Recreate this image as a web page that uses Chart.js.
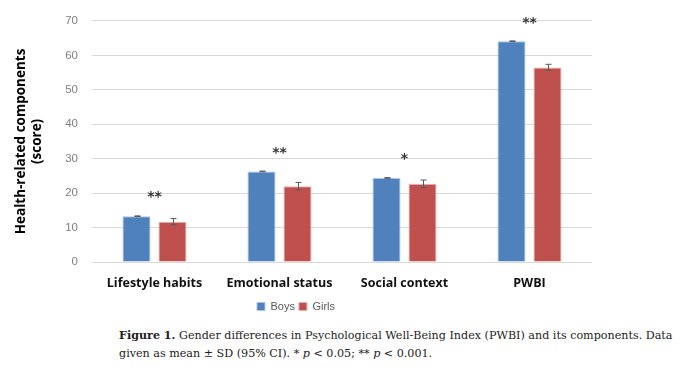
<!DOCTYPE html>
<html><head><meta charset="utf-8">
<script src="https://cdn.jsdelivr.net/npm/chart.js@4"></script>
<style>
html,body{margin:0;padding:0;background:#fff;width:694px;height:375px;overflow:hidden}
#wrap{position:absolute;left:0;top:0;width:694px;height:326px}
#cap{position:absolute;left:119px;top:327px;width:575px;font-family:"DejaVu Serif","Liberation Serif",serif;font-size:11.15px;line-height:18px;color:#222;white-space:nowrap}
</style></head><body>
<div id="wrap"><canvas id="c" width="694" height="326"></canvas></div>
<div id="cap"><b>Figure 1.</b> Gender differences in Psychological Well-Being Index (PWBI) and its components. Data<br>given as mean ± SD (95% CI). * <i>p</i> &lt; 0.05; ** <i>p</i> &lt; 0.001.</div>
<script>
const categories = ['Lifestyle habits','Emotional status','Social context','PWBI'];
const boys = [13.3, 26.3, 24.4, 64.1];
const girls = [11.7, 22.0, 22.7, 56.5];
const boysSD = [0.1, 0.1, 0.1, 0.1];
const girlsSD = [0.9, 1.1, 1.1, 0.9];
const significance = ['**','**','*','**'];
const yTicks = [0,10,20,30,40,50,60,70];

const errorBars = {
  id:'errorBars',
  afterDatasetsDraw(chart){
    const ctx = chart.ctx, y = chart.scales.y;
    const sds = [boysSD, girlsSD];
    ctx.save();
    ctx.strokeStyle = '#595959'; ctx.lineWidth = 1;
    chart.data.datasets.forEach((ds,di)=>{
      const meta = chart.getDatasetMeta(di);
      meta.data.forEach((bar,i)=>{
        const v = ds.data[i], sd = sds[di][i];
        const x = Math.round(bar.x)+0.5;
        const y1 = y.getPixelForValue(v+sd), y2 = y.getPixelForValue(v-sd);
        ctx.beginPath();
        ctx.moveTo(x,y1); ctx.lineTo(x,y2);
        ctx.moveTo(x-3,y1); ctx.lineTo(x+3,y1);
        ctx.moveTo(x-3,y2); ctx.lineTo(x+3,y2);
        ctx.stroke();
      });
    });
    ctx.fillStyle = '#333';
    ctx.font = 'bold 14px "DejaVu Sans", sans-serif';
    ctx.textAlign = 'center'; ctx.textBaseline = 'middle';
    const m0 = chart.getDatasetMeta(0), m1 = chart.getDatasetMeta(1);
    significance.forEach((s,i)=>{
      const top = Math.max(boys[i]+boysSD[i], girls[i]+girlsSD[i]);
      const x = (m0.data[i].x + m1.data[i].x)/2;
      ctx.fillText(s, x, y.getPixelForValue(top) - 18);
    });
    ctx.restore();
  }
};

new Chart(document.getElementById('c'),{
  type:'bar',
  data:{labels:categories,datasets:[
    {label:'Boys',data:boys,backgroundColor:'#4F81BD',borderColor:'#a9c4e6',borderWidth:1,categoryPercentage:0.576,barPercentage:0.78},
    {label:'Girls',data:girls,backgroundColor:'#C0504D',borderColor:'#eab3b1',borderWidth:1,categoryPercentage:0.576,barPercentage:0.78}
  ]},
  options:{
    responsive:false,animation:false,
    layout:{padding:{left:0,right:102,top:15,bottom:4}},
    plugins:{
      legend:{position:'bottom',labels:{boxWidth:8,boxHeight:8,padding:4,color:'#595959',font:{family:'"Liberation Sans", Arial, sans-serif',size:11}}},
      tooltip:{enabled:false}
    },
    scales:{
      x:{grid:{display:false},border:{display:false},
        ticks:{color:'#111',padding:6,font:{family:'"Open Sans", sans-serif',size:12.5,weight:'bold'}}},
      y:{min:0,max:70,
        afterBuildTicks(s){s.ticks = yTicks.map(v=>({value:v}));},
        afterFit(s){s.width = 92;},
        grid:{color:'#d9d9d9',drawTicks:false},border:{display:false},
        ticks:{color:'#7f7f7f',padding:14,font:{family:'"Liberation Sans", Arial, sans-serif',size:11.5}},
        title:{display:true,text:['Health-related components','(score)'],color:'#000',padding:{top:13,bottom:0},
          font:{family:'"Open Sans", sans-serif',size:13.5,weight:'bold'},lineHeight:1.75}
      }
    }
  },
  plugins:[errorBars]
});
</script>
</body></html>
